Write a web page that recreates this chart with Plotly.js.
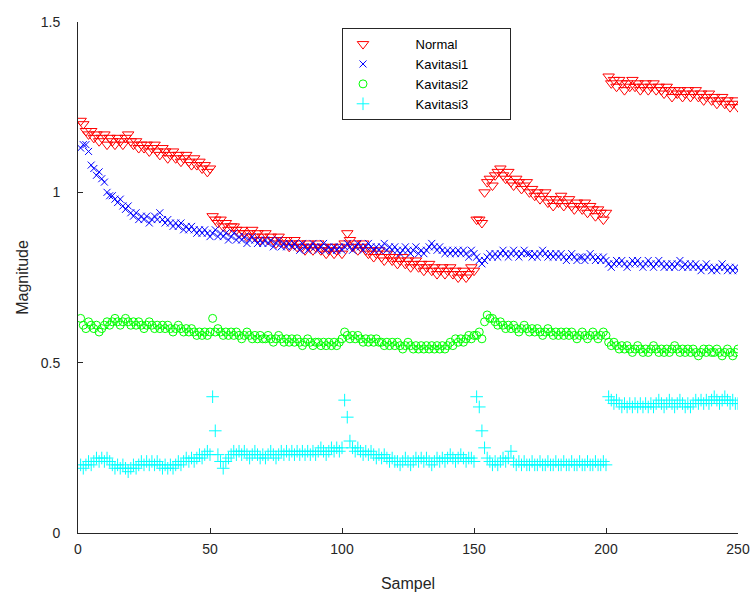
<!DOCTYPE html>
<html>
<head>
<meta charset="utf-8">
<script src="https://cdn.plot.ly/plotly-3.0.1.min.js"></script>
<style>html,body{margin:0;padding:0;background:#fff;}#chart{width:752px;height:600px;}</style>
</head>
<body>
<div id="chart"></div>
<script>
const seriesNames = ["Normal", "Kavitasi1", "Kavitasi2", "Kavitasi3"];
const xTickVals = [0, 50, 100, 150, 200, 250];
const yTickVals = [0, 0.5, 1, 1.5];
const yTickText = ["0", "0.5", "1", "1.5"];

const normal = [
1.21,1.20,1.18,1.17,1.18,1.16,1.17,1.15,1.16,1.17,
1.14,1.16,1.15,1.14,1.16,1.15,1.14,1.16,1.17,1.15,
1.14,1.15,1.13,1.14,1.13,1.14,1.12,1.13,1.14,1.12,
1.11,1.13,1.12,1.10,1.11,1.12,1.10,1.11,1.09,1.10,
1.11,1.09,1.08,1.10,1.08,1.09,1.07,1.08,1.06,1.07,
0.93,0.92,0.91,0.92,0.90,0.91,0.89,0.90,0.90,0.89,
0.88,0.89,0.88,0.87,0.88,0.89,0.87,0.88,0.86,0.87,
0.88,0.86,0.87,0.86,0.85,0.87,0.86,0.85,0.86,0.84,
0.85,0.86,0.84,0.85,0.84,0.83,0.85,0.84,0.83,0.84,
0.85,0.83,0.84,0.82,0.83,0.84,0.82,0.83,0.84,0.82,
0.85,0.88,0.86,0.84,0.85,0.83,0.84,0.85,0.83,0.82,
0.83,0.81,0.82,0.83,0.81,0.80,0.82,0.81,0.80,0.81,
0.79,0.80,0.81,0.79,0.80,0.78,0.79,0.80,0.78,0.79,
0.77,0.78,0.79,0.77,0.78,0.76,0.77,0.78,0.76,0.77,
0.78,0.76,0.77,0.75,0.76,0.77,0.75,0.76,0.78,0.77,
0.92,0.92,0.91,1.00,1.03,1.04,1.02,1.05,1.06,1.07,
1.05,1.04,1.06,1.03,1.02,1.04,1.03,1.01,1.02,1.03,
1.00,1.01,0.99,1.00,0.98,0.99,1.00,0.97,0.98,0.96,
0.98,0.97,0.99,0.96,0.97,0.98,0.96,0.95,0.97,0.96,
0.95,0.97,0.94,0.96,0.95,0.93,0.95,0.94,0.92,0.94,
1.34,1.32,1.33,1.31,1.33,1.32,1.30,1.32,1.31,1.33,
1.31,1.32,1.30,1.31,1.32,1.30,1.31,1.32,1.30,1.31,
1.30,1.29,1.31,1.30,1.28,1.30,1.29,1.30,1.28,1.29,
1.30,1.28,1.29,1.30,1.28,1.29,1.27,1.28,1.29,1.27,
1.28,1.26,1.27,1.28,1.26,1.27,1.25,1.26,1.27,1.25
];

const kavitasi1 = [
1.13,1.14,1.14,1.12,1.08,1.07,1.05,1.06,1.04,1.03,
1.00,0.99,0.99,0.98,0.97,0.98,0.96,0.95,0.96,0.94,
0.93,0.94,0.92,0.93,0.92,0.93,0.91,0.92,0.93,0.92,
0.94,0.92,0.91,0.92,0.91,0.90,0.91,0.90,0.91,0.89,
0.90,0.89,0.90,0.89,0.88,0.89,0.88,0.89,0.88,0.87,
0.88,0.89,0.87,0.88,0.87,0.88,0.86,0.87,0.88,0.86,
0.87,0.86,0.87,0.85,0.86,0.87,0.86,0.85,0.86,0.85,
0.86,0.85,0.86,0.84,0.85,0.86,0.84,0.85,0.84,0.85,
0.84,0.85,0.84,0.83,0.85,0.84,0.83,0.84,0.85,0.84,
0.83,0.84,0.85,0.83,0.84,0.83,0.84,0.83,0.84,0.83,
0.84,0.85,0.84,0.83,0.84,0.85,0.84,0.83,0.84,0.85,
0.84,0.83,0.84,0.83,0.84,0.85,0.83,0.84,0.83,0.84,
0.83,0.82,0.83,0.84,0.83,0.82,0.83,0.84,0.82,0.83,
0.82,0.83,0.84,0.85,0.84,0.83,0.84,0.83,0.82,0.83,
0.82,0.83,0.82,0.83,0.82,0.83,0.82,0.81,0.83,0.82,
0.81,0.80,0.79,0.80,0.81,0.82,0.81,0.82,0.81,0.82,
0.83,0.82,0.81,0.82,0.83,0.82,0.81,0.82,0.83,0.82,
0.82,0.81,0.82,0.81,0.82,0.83,0.82,0.81,0.82,0.81,
0.82,0.81,0.82,0.81,0.80,0.81,0.82,0.81,0.80,0.81,
0.81,0.80,0.81,0.82,0.81,0.80,0.81,0.80,0.81,0.80,
0.79,0.78,0.79,0.80,0.79,0.80,0.79,0.78,0.79,0.80,
0.79,0.80,0.79,0.78,0.79,0.80,0.79,0.78,0.79,0.80,
0.79,0.78,0.79,0.78,0.79,0.78,0.79,0.80,0.78,0.79,
0.78,0.79,0.78,0.79,0.78,0.77,0.78,0.79,0.78,0.77,
0.78,0.77,0.78,0.79,0.78,0.77,0.78,0.77,0.78,0.77
];

const kavitasi2 = [
0.63,0.61,0.60,0.62,0.61,0.60,0.61,0.59,0.60,0.61,
0.62,0.61,0.62,0.63,0.62,0.61,0.62,0.63,0.62,0.61,
0.62,0.61,0.62,0.61,0.60,0.61,0.62,0.61,0.60,0.61,
0.60,0.61,0.60,0.61,0.60,0.59,0.60,0.61,0.60,0.59,
0.60,0.59,0.60,0.59,0.58,0.59,0.58,0.59,0.58,0.59,
0.63,0.59,0.60,0.59,0.58,0.59,0.58,0.59,0.58,0.59,
0.58,0.57,0.58,0.59,0.58,0.57,0.58,0.57,0.58,0.57,
0.57,0.58,0.57,0.56,0.57,0.58,0.57,0.56,0.57,0.56,
0.57,0.56,0.57,0.56,0.55,0.56,0.57,0.56,0.55,0.56,
0.56,0.55,0.56,0.55,0.56,0.55,0.56,0.55,0.56,0.57,
0.59,0.58,0.57,0.58,0.57,0.58,0.57,0.56,0.57,0.56,
0.57,0.56,0.57,0.56,0.56,0.55,0.56,0.55,0.56,0.55,
0.56,0.55,0.54,0.55,0.56,0.55,0.54,0.55,0.54,0.55,
0.54,0.55,0.54,0.55,0.54,0.55,0.54,0.55,0.54,0.55,
0.56,0.55,0.57,0.56,0.57,0.56,0.57,0.58,0.57,0.58,
0.58,0.59,0.57,0.62,0.64,0.63,0.63,0.62,0.61,0.62,
0.61,0.60,0.61,0.60,0.61,0.60,0.59,0.60,0.61,0.60,
0.59,0.60,0.59,0.60,0.59,0.58,0.59,0.60,0.59,0.58,
0.59,0.58,0.59,0.58,0.59,0.58,0.59,0.58,0.57,0.58,
0.59,0.58,0.57,0.58,0.59,0.58,0.57,0.58,0.59,0.58,
0.56,0.55,0.56,0.55,0.54,0.55,0.54,0.55,0.54,0.53,
0.54,0.55,0.54,0.53,0.54,0.53,0.54,0.55,0.54,0.53,
0.54,0.53,0.54,0.53,0.54,0.55,0.54,0.53,0.54,0.53,
0.54,0.53,0.54,0.53,0.52,0.53,0.54,0.53,0.54,0.53,
0.53,0.54,0.53,0.52,0.53,0.54,0.53,0.52,0.53,0.54
];

const kavitasi3 = [
0.20,0.19,0.20,0.21,0.20,0.21,0.22,0.21,0.22,0.21,
0.22,0.21,0.20,0.19,0.20,0.19,0.20,0.19,0.18,0.19,
0.20,0.19,0.20,0.21,0.20,0.21,0.20,0.21,0.20,0.21,
0.20,0.19,0.20,0.19,0.20,0.19,0.20,0.21,0.20,0.21,
0.22,0.21,0.22,0.21,0.22,0.23,0.22,0.23,0.24,0.23,
0.40,0.30,0.23,0.21,0.19,0.21,0.22,0.23,0.24,0.23,
0.24,0.23,0.24,0.23,0.22,0.23,0.24,0.23,0.22,0.23,
0.22,0.23,0.24,0.23,0.22,0.23,0.24,0.23,0.24,0.23,
0.24,0.23,0.24,0.23,0.24,0.23,0.24,0.23,0.24,0.23,
0.24,0.25,0.24,0.23,0.24,0.25,0.24,0.25,0.24,0.25,
0.39,0.34,0.27,0.25,0.24,0.25,0.24,0.23,0.24,0.23,
0.24,0.23,0.22,0.23,0.22,0.23,0.22,0.21,0.22,0.21,
0.21,0.20,0.21,0.22,0.21,0.20,0.21,0.22,0.21,0.22,
0.21,0.22,0.21,0.20,0.21,0.22,0.21,0.22,0.21,0.22,
0.23,0.22,0.21,0.22,0.23,0.22,0.21,0.22,0.22,0.21,
0.40,0.37,0.30,0.25,0.22,0.21,0.20,0.21,0.20,0.21,
0.22,0.21,0.22,0.24,0.21,0.20,0.21,0.20,0.21,0.20,
0.20,0.21,0.20,0.20,0.21,0.20,0.20,0.21,0.20,0.20,
0.21,0.20,0.20,0.21,0.20,0.20,0.21,0.20,0.20,0.21,
0.20,0.20,0.21,0.20,0.20,0.21,0.20,0.20,0.21,0.20,
0.40,0.39,0.38,0.39,0.38,0.37,0.38,0.37,0.38,0.37,
0.38,0.37,0.38,0.37,0.38,0.37,0.38,0.37,0.38,0.39,
0.38,0.37,0.38,0.39,0.38,0.37,0.38,0.39,0.38,0.37,
0.38,0.37,0.38,0.39,0.38,0.39,0.38,0.39,0.38,0.39,
0.40,0.39,0.38,0.39,0.40,0.39,0.38,0.39,0.38,0.38
];

const sampleIndex = normal.map((_, i) => i + 1);

const styles = [
  {symbol: "triangle-down-open", color: "#ff0000", size: 10},
  {symbol: "x-thin-open", color: "#0000ff", size: 7},
  {symbol: "circle-open", color: "#00ff00", size: 8},
  {symbol: "cross-thin-open", color: "#00ffff", size: 9}
];
const values = [normal, kavitasi1, kavitasi2, kavitasi3];
const padL = "\u00a0".repeat(9);
const padR = "\u00a0".repeat(10);

const traces = values.map((v, k) => ({
  type: "scatter",
  mode: "markers",
  x: sampleIndex,
  y: v,
  name: padL + seriesNames[k] + padR,
  marker: {symbol: styles[k].symbol, size: styles[k].size, color: styles[k].color,
           line: {color: styles[k].color, width: 1}}
}));

const fam = "Liberation Sans, Arial, sans-serif";
const axisFont = {family: fam, size: 14, color: "#262626"};

const layout = {
  width: 752, height: 600,
  margin: {l: 78, r: 14, t: 22, b: 67},
  paper_bgcolor: "#ffffff", plot_bgcolor: "#ffffff",
  showlegend: true,
  font: axisFont,
  xaxis: {
    range: [0, 250], tickvals: xTickVals, ticktext: xTickVals.map(String),
    ticks: "inside", ticklen: 5, tickcolor: "#262626",
    showline: true, linecolor: "#262626", linewidth: 1,
    showgrid: false, zeroline: false, tickfont: axisFont, ticklabelstandoff: 3,
    title: {text: "Sampel", font: {family: fam, size: 16, color: "#262626"}, standoff: 22}
  },
  yaxis: {
    range: [0, 1.5], tickvals: yTickVals, ticktext: yTickText,
    ticks: "inside", ticklen: 5, tickcolor: "#262626",
    showline: true, linecolor: "#262626", linewidth: 1,
    showgrid: false, zeroline: false, tickfont: axisFont, ticklabelstandoff: 14,
    title: {text: "Magnitude", font: {family: fam, size: 16, color: "#262626"}, standoff: 8}
  },
  legend: {
    x: 0.4, y: 0.988, xanchor: "left", yanchor: "top",
    bgcolor: "#ffffff", bordercolor: "#262626", borderwidth: 1,
    font: {family: fam, size: 13, color: "#000000"},
    tracegroupgap: 0
  }
};

Plotly.newPlot("chart", traces, layout, {displayModeBar: false, staticPlot: true});
</script>
</body>
</html>
